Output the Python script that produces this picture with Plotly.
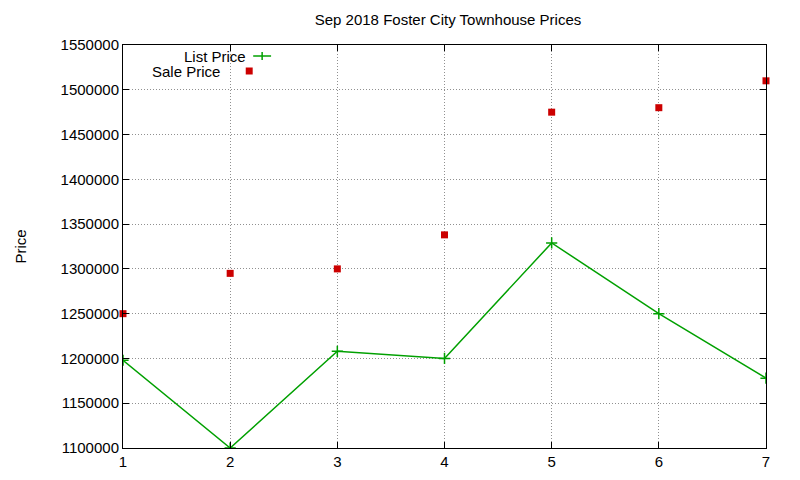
import plotly.graph_objects as go

x = [1, 2, 3, 4, 5, 6, 7]
list_price = [1198000, 1100000, 1208000, 1200000, 1329000, 1250000, 1178000]
sale_price = [1250000, 1295000, 1300000, 1338000, 1475000, 1480000, 1510000]
yticks = list(range(1100000, 1550001, 50000))

W, H = 800, 480
pw, ph = 647, 403
L, T = 111, 37
R, B = W - L - pw, H - T - ph
PL, PT = 119, 45  # plot area position in the photographed page
def px(xp): return (xp - PL) / pw
def py(yp): return (PT + ph - yp) / ph

fig = go.Figure()
fig.add_trace(go.Scatter(x=x, y=list_price, mode="lines+markers", name="List Price",
    line=dict(color="#00a000", width=1.5),
    marker=dict(symbol="cross-thin", size=8, line=dict(color="#00a000", width=1.5))))
fig.add_trace(go.Scatter(x=x, y=sale_price, mode="markers", name="Sale Price",
    marker=dict(symbol="square", size=7, color="#cc0000"), cliponaxis=False))

font = dict(family="Liberation Sans, Arial", size=15, color="black")
ax = dict(showline=True, mirror="allticks", linecolor="black", linewidth=1,
          ticks="inside", ticklen=6, tickcolor="black",
          showgrid=True, gridcolor="#909090", griddash="1px,2px", gridwidth=1, zeroline=False,
          tickfont=font)
fig.update_xaxes(range=[1, 7], tickvals=x, **ax)
fig.update_yaxes(range=[1100000, 1550000], tickvals=yticks, tickformat="d",
                 title=dict(text="Price", font=font, standoff=30), **ax)

fig.add_annotation(x=px(245), y=py(56), xref="paper", yref="paper", text="List Price",
                   xanchor="right", yanchor="middle", showarrow=False, font=font)
fig.add_annotation(x=px(219), y=py(71), xref="paper", yref="paper", text="Sale Price",
                   xanchor="right", yanchor="middle", showarrow=False, font=font)
fig.add_shape(type="line", xref="paper", yref="paper", x0=px(250), x1=px(268), y0=py(56), y1=py(56),
              line=dict(color="#00a000", width=1.5))
fig.add_shape(type="line", xref="paper", yref="paper", x0=px(259), x1=px(259), y0=py(52), y1=py(60),
              line=dict(color="#00a000", width=1.5))
fig.add_shape(type="rect", xref="paper", yref="paper", x0=px(242.5), x1=px(249.5), y0=py(67.5), y1=py(74.5),
              line=dict(width=0), fillcolor="#cc0000")

fig.update_layout(width=W, height=H, margin=dict(l=L, r=R, t=T, b=B),
                  paper_bgcolor="white", plot_bgcolor="white", showlegend=False,
                  title=dict(text="Sep 2018 Foster City Townhouse Prices", x=0.55, xanchor="center",
                             y=1 - 12 / H, yanchor="middle", font=font))
fig.write_html("out.html")
